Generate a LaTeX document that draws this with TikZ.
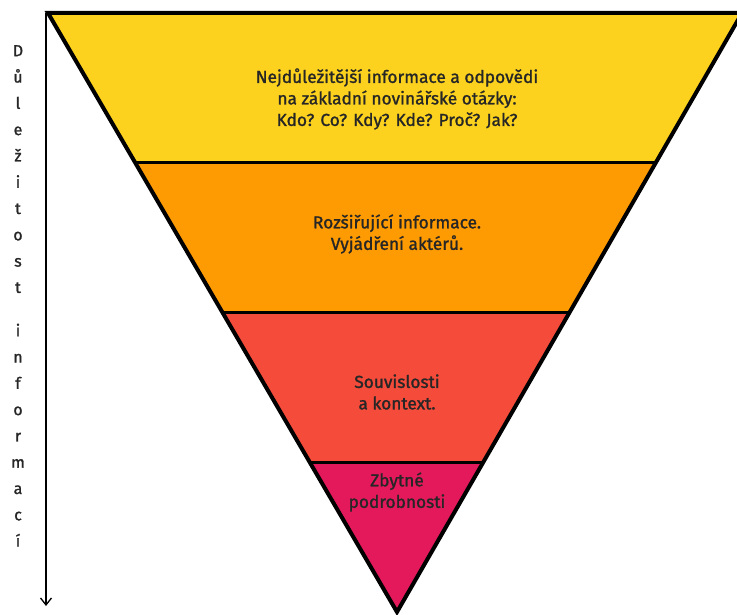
\documentclass[tikz,border=0pt]{standalone}
\usepackage{fontspec}
\setmainfont{Fira Sans}[UprightFeatures={FakeBold=1.3}]
\usetikzlibrary{calc,arrows.meta}
\definecolor{vrstva1}{HTML}{FCD21E}
\definecolor{vrstva2}{HTML}{FE9A02}
\definecolor{vrstva3}{HTML}{F44B3A}
\definecolor{vrstva4}{HTML}{E3195C}
\begin{document}
\begin{tikzpicture}
  [x=1pt, y=-1pt,
   band/.style={draw=black, line width=3pt},
   label/.style={align=center, font=\fontsize{17.3}{21.5}\selectfont, text=black!85},
   axis/.style={line width=1.3pt, -{Straight Barb[length=7pt,width=11pt]}}]

  \useasboundingbox (0,0) rectangle (737,615);

  % Vrcholy trojuhelniku
  \coordinate (tl) at (48,13);
  \coordinate (tr) at (742,13);
  \coordinate (apex) at (397,612);
  \foreach \i/\t in {1/0.25, 2/0.5, 3/0.75} {
    \coordinate (l\i) at ($(tl)!\t!(apex)$);
    \coordinate (r\i) at ($(tr)!\t!(apex)$);
  }

  % Vrstvy
  \fill[vrstva1] (tl) -- (tr) -- (r1) -- (l1) -- cycle;
  \fill[vrstva2] (l1) -- (r1) -- (r2) -- (l2) -- cycle;
  \fill[vrstva3] (l2) -- (r2) -- (r3) -- (l3) -- cycle;
  \fill[vrstva4] (l3) -- (r3) -- (apex) -- cycle;
  \foreach \i in {1,2,3}
    \draw[band] (l\i) -- (r\i);
  \draw[line width=4pt] (tl) -- (tr) -- (apex) -- cycle;

  % Texty
  \node[label] (t1) at (397,99) {Nejdůležitější informace a odpovědi\\na základní novinářské otázky:\\Kdo? Co? Kdy? Kde? Proč? Jak?};
  \node[label] (t2) at (397,234) {Rozšiřující informace.\\Vyjádření aktérů.};
  \node[label] (t3) at (397,392) {Souvislosti\\a kontext.};
  \node[label] (t4) at (397,492) {Zbytné\\podrobnosti};

  % Osa dulezitosti
  \coordinate (a1) at (46,13);
  \coordinate (a2) at (46,606);
  \draw[axis] (a1) -- (a2);
  \node[align=center, font=\fontsize{16}{26.3}\selectfont, anchor=north, inner sep=0pt, text=black!85] (osa) at (18,45)
    {D\\ů\\l\\e\\ž\\i\\t\\o\\s\\t\\[17pt]i\\n\\f\\o\\r\\m\\a\\c\\í};
\end{tikzpicture}
\end{document}
